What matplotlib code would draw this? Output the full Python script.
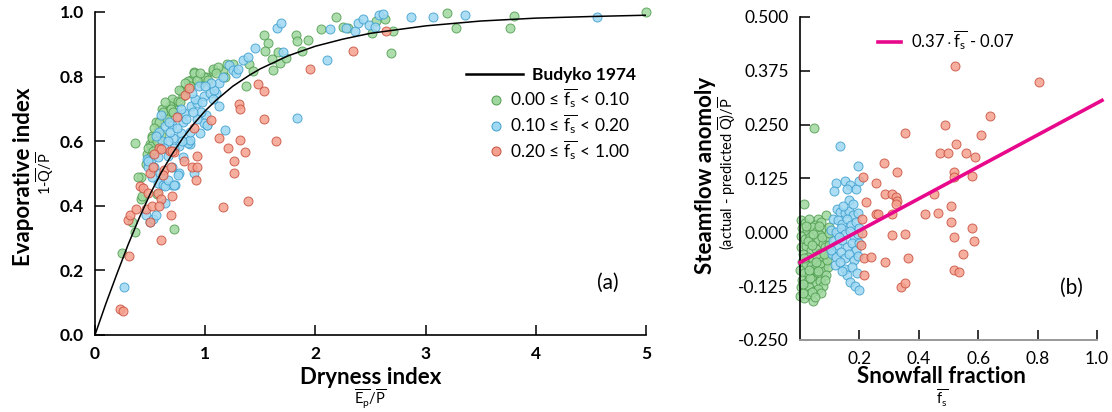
import matplotlib
matplotlib.use("Agg")
import matplotlib.pyplot as plt
from matplotlib.lines import Line2D

plt.rcParams['font.family'] = ['Lato', 'DejaVu Sans']
plt.rcParams['mathtext.fontset'] = 'custom'
plt.rcParams['mathtext.rm'] = 'Lato'
plt.rcParams['mathtext.it'] = 'Lato:italic'
plt.rcParams['mathtext.bf'] = 'Lato:bold'

# Budyko curve
budyko_x = [0, 0.1, 0.2, 0.3, 0.4, 0.5, 0.6, 0.7, 0.8, 0.9, 1.0, 1.1, 1.25, 1.4, 1.5, 1.75,
            2.0, 2.25, 2.5, 3.0, 3.5, 4.0, 4.5, 5.0]
budyko_y = [0, 0.098, 0.19, 0.279, 0.361, 0.436, 0.502, 0.56, 0.611, 0.655, 0.694, 0.727,
            0.77, 0.804, 0.824, 0.864, 0.894, 0.916, 0.934, 0.957, 0.972, 0.981, 0.986, 0.99]

# panel (a): dryness index vs evaporative index
green_a = [(0.245, 0.253), (0.36, 0.593), (0.36, 0.32), (0.34, 0.35), (0.42, 0.49), (0.42, 0.42),
           (0.72, 0.328), (0.52, 0.615), (0.50, 0.59), (0.56, 0.435), (0.90, 0.814), (0.87, 0.79),
           (0.82, 0.76), (0.84, 0.765), (1.07, 0.817), (1.16, 0.817), (1.01, 0.80), (0.96, 0.78),
           (1.25, 0.838), (1.37, 0.77), (1.40, 0.838), (1.43, 0.817), (1.53, 0.928), (1.57, 0.905),
           (1.54, 0.88), (1.61, 0.855), (1.62, 0.82), (1.66, 0.875), (1.68, 0.843), (1.73, 0.858),
           (1.82, 0.928), (1.83, 0.91), (1.88, 0.88), (1.93, 0.914), (2.05, 0.946), (2.19, 0.986),
           (2.25, 0.955), (2.30, 0.95), (2.51, 0.936), (2.55, 0.972), (2.63, 0.977), (2.70, 0.94),
           (2.69, 0.874), (3.19, 0.996), (3.28, 0.95), (3.80, 0.988), (3.77, 0.95), (5.0, 1.0),
           (0.90, 0.81), (0.78, 0.755), (0.72, 0.72), (0.66, 0.69), (0.63, 0.665), (0.57, 0.636),
           (0.52, 0.61), (0.51, 0.585), (0.70, 0.73), (0.75, 0.725), (0.84, 0.785), (0.99, 0.80),
           (1.07, 0.823), (0.39, 0.49), (0.43, 0.43), (0.61, 0.70), (0.73, 0.69), (0.60, 0.62),
           (0.68, 0.71), (0.80, 0.74), (0.64, 0.72), (0.55, 0.66), (0.47, 0.56), (0.58, 0.66),
           (0.76, 0.76), (0.93, 0.79), (1.12, 0.83), (1.20, 0.84), (0.48, 0.58), (0.54, 0.64),
           (0.62, 0.69), (0.69, 0.70), (0.86, 0.77), (1.03, 0.79), (1.18, 0.80), (0.58, 0.60),
           (0.53, 0.57), (0.56, 0.60), (0.65, 0.67), (0.71, 0.69), (0.77, 0.72), (0.82, 0.78),
           (0.95, 0.81), (1.10, 0.81), (0.46, 0.53), (0.50, 0.55)]
blue_a = [(0.26, 0.15), (0.47, 0.545), (0.46, 0.37), (0.50, 0.35), (0.53, 0.36), (0.55, 0.37),
          (0.64, 0.41), (0.70, 0.465), (0.73, 0.465), (0.76, 0.50), (0.57, 0.47), (0.62, 0.465),
          (0.64, 0.46), (0.66, 0.48), (0.86, 0.59), (0.84, 0.60), (0.95, 0.626), (1.02, 0.65),
          (1.01, 0.68), (1.13, 0.71), (1.18, 0.635), (1.10, 0.75), (1.22, 0.835), (1.25, 0.82),
          (1.28, 0.81), (1.30, 0.825), (1.34, 0.85), (1.39, 0.86), (1.45, 0.89), (1.65, 0.95),
          (1.69, 0.967), (1.71, 0.875), (1.83, 0.672), (2.11, 0.85), (2.13, 0.948), (2.28, 0.95),
          (2.36, 0.94), (2.39, 0.967), (2.43, 0.977), (2.49, 0.96), (2.54, 0.955), (2.58, 0.99),
          (2.61, 0.993), (2.87, 0.985), (3.07, 0.983), (3.36, 0.99), (4.56, 0.983),
          (0.51, 0.543), (0.48, 0.52), (0.585, 0.63), (0.64, 0.646), (0.70, 0.65), (0.75, 0.677),
          (0.81, 0.687), (0.87, 0.708), (0.93, 0.718), (0.99, 0.74), (1.04, 0.75), (1.08, 0.76),
          (1.13, 0.78), (1.16, 0.80), (0.61, 0.60), (0.71, 0.61), (0.78, 0.625), (0.84, 0.595),
          (0.86, 0.605), (0.76, 0.585), (0.66, 0.553), (0.75, 0.496), (0.72, 0.465), (0.90, 0.50),
          (0.99, 0.657), (1.02, 0.65), (0.96, 0.69), (0.91, 0.73), (0.94, 0.77), (1.05, 0.78),
          (0.60, 0.68), (0.55, 0.615), (0.48, 0.54), (0.54, 0.52), (0.59, 0.50), (0.70, 0.52),
          (0.80, 0.55), (0.86, 0.63), (0.80, 0.66), (0.93, 0.67), (0.66, 0.60), (0.72, 0.58),
          (0.78, 0.70), (0.68, 0.63), (0.88, 0.75), (1.00, 0.77), (0.63, 0.58), (0.74, 0.64),
          (0.83, 0.67), (0.89, 0.69), (0.97, 0.72), (0.57, 0.55), (0.52, 0.49), (0.67, 0.66),
          (0.79, 0.60), (1.07, 0.73)]
red_a = [(0.23, 0.08), (0.25, 0.075), (0.31, 0.245), (0.30, 0.357), (0.32, 0.37), (0.37, 0.39),
         (0.41, 0.46), (0.44, 0.455), (0.46, 0.39), (0.48, 0.44), (0.50, 0.35), (0.50, 0.50),
         (0.53, 0.52), (0.52, 0.40), (0.57, 0.44), (0.60, 0.295), (0.60, 0.42), (0.58, 0.40),
         (0.63, 0.51), (0.62, 0.495), (0.69, 0.37), (0.69, 0.52), (0.70, 0.43), (0.68, 0.57),
         (0.72, 0.565), (0.58, 0.58), (0.60, 0.575), (0.745, 0.675), (0.81, 0.54), (0.82, 0.743),
         (0.85, 0.765), (0.88, 0.52), (0.93, 0.52), (0.93, 0.555), (0.92, 0.48), (0.90, 0.64),
         (1.05, 0.667), (1.13, 0.61), (1.21, 0.58), (1.26, 0.54), (1.26, 0.50), (1.31, 0.715),
         (1.32, 0.70), (1.32, 0.605), (1.36, 0.565), (1.16, 0.395), (1.39, 0.415), (1.48, 0.778),
         (1.53, 0.756), (1.53, 0.67), (1.64, 0.60), (1.95, 0.824), (2.34, 0.88), (2.64, 0.94),
         (0.70, 0.57), (0.54, 0.56)]

# panel (b): snowfall fraction vs streamflow anomaly
green_b = [(0.048, 0.243), (0.012, 0.065), (0.045, -0.160), (0.087, 0.040), (0.060, 0.030),
           (0.003, 0.028), (0.018, 0.022), (0.031, 0.031), (0.052, 0.018), (0.071, 0.025),
           (0.079, 0.005), (0.008, 0.010), (0.024, 0.004), (0.041, 0.012), (0.058, 0.002),
           (0.066, -0.006), (0.090, -0.012), (0.097, 0.012), (0.004, -0.008), (0.016, -0.015),
           (0.033, -0.010), (0.047, -0.022), (0.062, -0.018), (0.076, -0.028), (0.085, -0.035),
           (0.099, -0.030), (0.002, -0.035), (0.021, -0.032), (0.037, -0.041), (0.054, -0.038),
           (0.069, -0.047), (0.093, -0.052), (0.011, -0.050), (0.028, -0.057), (0.044, -0.061),
           (0.059, -0.055), (0.074, -0.066), (0.083, -0.072), (0.006, -0.068), (0.019, -0.075),
           (0.036, -0.079), (0.051, -0.083), (0.066, -0.077), (0.081, -0.090), (0.095, -0.080),
           (0.001, -0.088), (0.014, -0.094), (0.029, -0.098), (0.043, -0.091), (0.057, -0.101),
           (0.072, -0.106), (0.088, -0.098), (0.008, -0.110), (0.023, -0.115), (0.039, -0.108),
           (0.053, -0.119), (0.067, -0.113), (0.079, -0.124), (0.003, -0.128), (0.017, -0.133),
           (0.032, -0.126), (0.048, -0.137), (0.062, -0.131), (0.070, -0.142), (0.001, -0.147),
           (0.013, -0.152), (0.027, -0.144), (0.040, -0.139), (0.009, -0.140), (0.026, -0.020),
           (0.045, -0.005), (0.015, -0.060), (0.055, -0.070), (0.035, -0.105), (0.060, -0.090),
           (0.075, -0.010), (0.092, -0.065), (0.100, -0.045), (0.020, 0.015), (0.065, 0.015),
           (0.085, -0.110), (0.050, -0.150), (0.030, -0.088), (0.010, -0.120), (0.040, -0.030),
           (0.080, -0.050), (0.098, -0.002)]
blue_b = [(0.135, 0.200), (0.195, 0.153), (0.120, 0.115), (0.150, 0.120), (0.170, 0.110),
          (0.190, 0.100), (0.200, 0.120), (0.115, 0.095), (0.160, 0.100), (0.165, 0.075),
          (0.125, 0.055), (0.135, 0.048), (0.150, 0.045), (0.165, 0.050), (0.180, 0.040),
          (0.195, 0.045), (0.110, 0.030), (0.128, 0.028), (0.143, 0.020), (0.158, 0.030),
          (0.172, 0.018), (0.188, 0.025), (0.200, 0.010), (0.105, 0.005), (0.120, 0.000),
          (0.138, 0.010), (0.152, -0.005), (0.168, 0.002), (0.182, -0.010), (0.197, -0.005),
          (0.112, -0.020), (0.126, -0.030), (0.141, -0.018), (0.157, -0.035), (0.174, -0.025),
          (0.190, -0.040), (0.200, -0.025), (0.108, -0.050), (0.122, -0.058), (0.137, -0.045),
          (0.151, -0.060), (0.166, -0.050), (0.183, -0.065), (0.196, -0.055), (0.118, -0.075),
          (0.135, -0.070), (0.150, -0.085), (0.160, -0.100), (0.170, -0.115), (0.185, -0.125),
          (0.200, -0.135), (0.140, -0.090), (0.175, -0.080), (0.192, -0.095), (0.103, -0.040),
          (0.145, 0.060), (0.130, -0.010), (0.178, 0.065)]
red_b = [(0.522, 0.386), (0.805, 0.350), (0.640, 0.270), (0.490, 0.249), (0.610, 0.225),
         (0.355, 0.230), (0.525, 0.205), (0.470, 0.183), (0.500, 0.183), (0.560, 0.185),
         (0.590, 0.175), (0.283, 0.160), (0.327, 0.139), (0.212, 0.128), (0.257, 0.114),
         (0.520, 0.140), (0.518, 0.128), (0.580, 0.130), (0.285, 0.090), (0.310, 0.090),
         (0.322, 0.082), (0.328, 0.072), (0.325, 0.065), (0.222, 0.070), (0.255, 0.043),
         (0.262, 0.042), (0.310, 0.043), (0.420, 0.043), (0.465, 0.045), (0.452, 0.088),
         (0.510, 0.060), (0.210, -0.002), (0.310, -0.007), (0.352, -0.003), (0.510, 0.023),
         (0.518, -0.012), (0.580, 0.010), (0.585, -0.020), (0.548, -0.050), (0.216, -0.060),
         (0.240, -0.058), (0.365, -0.060), (0.285, -0.070), (0.217, -0.100), (0.520, -0.087),
         (0.535, -0.093), (0.340, -0.128), (0.352, -0.118), (0.210, 0.030), (0.205, -0.030)]

fit_x = [0.0, 1.017]
slope, intercept = 0.37, -0.07

group_labels = [r'0.00 ≤ $\overline{\mathrm{f}_\mathrm{s}}$ < 0.10',
                r'0.10 ≤ $\overline{\mathrm{f}_\mathrm{s}}$ < 0.20',
                r'0.20 ≤ $\overline{\mathrm{f}_\mathrm{s}}$ < 1.00']
face = ['#9fd89f', '#9fd8f2', '#f5a08e']
edge = ['#4f9c4f', '#3c9fd0', '#c9503f']

fig = plt.figure(figsize=(11.12, 4.12), dpi=100)
ax1 = fig.add_axes([0.0854, 0.1869, 0.4955, 0.784])
ax2 = fig.add_axes([0.7194, 0.1748, 0.2716, 0.784])


def scatter(ax, pts, i):
    ax.scatter([p[0] for p in pts], [p[1] for p in pts], s=42, c=face[i], edgecolors=edge[i],
               linewidths=0.7, alpha=0.85, zorder=2 + i, clip_on=False)


# (a)
scatter(ax1, green_a, 0)
scatter(ax1, blue_a, 1)
scatter(ax1, red_a, 2)
ax1.plot(budyko_x, budyko_y, color='black', lw=1.1, zorder=6)
ax1.set_xlim(0, 5)
ax1.set_ylim(0, 1)
ax1.set_xticks([0, 1, 2, 3, 4, 5])
ax1.set_yticks([0, 0.2, 0.4, 0.6, 0.8, 1.0])
ax1.set_yticklabels(['0.0', '0.2', '0.4', '0.6', '0.8', '1.0'])
for s in ['top', 'right']:
    ax1.spines[s].set_visible(False)
for s in ['left', 'bottom']:
    ax1.spines[s].set_linewidth(1.2)
ax1.tick_params(direction='in', length=7, width=1.1, labelsize=12.5, pad=8)
for t in ax1.get_xticklabels() + ax1.get_yticklabels():
    t.set_fontweight('bold')

# legend: line entry and marker entries kept apart so the spacing matches
leg1 = ax1.legend([Line2D([], [], color='black', lw=1.8)], ['Budyko 1974'], loc='upper left',
                  bbox_to_anchor=(0.657, 0.856), frameon=False, fontsize=12.5,
                  handlelength=3.3, handletextpad=0.55, borderpad=0)
leg1.get_texts()[0].set_fontweight('bold')
ax1.add_artist(leg1)
handles = []
for i in range(3):
    handles.append(Line2D([], [], ls='', marker='o', markersize=6.5, markerfacecolor=face[i],
                          markeredgecolor=edge[i], markeredgewidth=0.7))
ax1.legend(handles, group_labels, loc='upper left', bbox_to_anchor=(0.699, 0.795),
           frameon=False, fontsize=12.5, handlelength=0.8, handletextpad=0.45,
           labelspacing=0.12, borderpad=0)
ax1.text(0.93, 0.16, '(a)', transform=ax1.transAxes, fontsize=15, ha='center', va='center')

fig.text(0.021, 0.57, 'Evaporative index', rotation=90, fontsize=16, fontweight='bold',
         ha='center', va='center')
fig.text(0.041, 0.58, r'$1\text{-}\overline{\mathrm{Q}}/\overline{\mathrm{P}}$', rotation=90,
         fontsize=10.5, ha='center', va='center')
fig.text(0.333, 0.084, 'Dryness index', fontsize=16, fontweight='bold', ha='center', va='center')
fig.text(0.333, 0.032, r'$\overline{\mathrm{E_p}}/\overline{\mathrm{P}}$', fontsize=10.5,
         ha='center', va='center')

# (b)
scatter(ax2, green_b, 0)
scatter(ax2, blue_b, 1)
scatter(ax2, red_b, 2)
ax2.plot(fit_x, [slope * x + intercept for x in fit_x], color='#e8088c', lw=2.6, zorder=6,
         label=r'$0.37\cdot\overline{\mathrm{f}_\mathrm{s}}$ - 0.07', clip_on=False)
ax2.set_xlim(0, 1.017)
ax2.set_ylim(-0.25, 0.5)
ax2.set_xticks([0.2, 0.4, 0.6, 0.8, 1.0])
ax2.set_xticklabels(['0.2', '0.4', '0.6', '0.8', '1.0'])
ax2.set_yticks([-0.25, -0.125, 0, 0.125, 0.25, 0.375, 0.5])
ax2.set_yticklabels(['-0.250', '-0.125', '0.000', '0.125', '0.250', '0.375', '0.500'])
for s in ['top', 'right']:
    ax2.spines[s].set_visible(False)
ax2.spines['left'].set_linewidth(1.2)
ax2.spines['bottom'].set_color('#9a9a9a')
ax2.spines['bottom'].set_linewidth(1.4)
ax2.spines['bottom'].set_bounds(0, 1.0)
ax2.tick_params(direction='in', length=7, width=1.1, labelsize=12.5, pad=8)
ax2.legend(loc='upper left', bbox_to_anchor=(0.232, 0.99), frameon=False, fontsize=12,
           handlelength=1.35, handletextpad=0.6, borderpad=0)
ax2.text(0.9, 0.16, '(b)', transform=ax2.transAxes, fontsize=15, ha='center', va='center')

fig.text(0.634, 0.573, 'Steamflow anomoly', rotation=90, fontsize=16, fontweight='bold',
         ha='center', va='center')
fig.text(0.655, 0.58, r'(actual - predicted $\overline{\mathrm{Q}}$)/$\overline{\mathrm{P}}$',
         rotation=90, fontsize=10.5, ha='center', va='center')
fig.text(0.847, 0.086, 'Snowfall fraction', fontsize=16, fontweight='bold', ha='center',
         va='center')
fig.text(0.847, 0.034, r'$\overline{\mathrm{f_s}}$', fontsize=10.5, ha='center', va='center')

fig.savefig('out.png', dpi=100)
